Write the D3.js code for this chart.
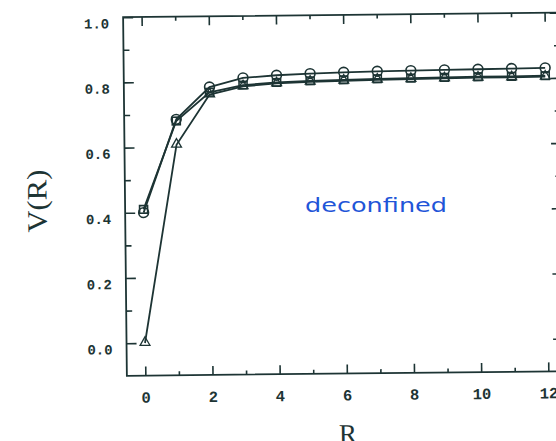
<!DOCTYPE html>
<html>
<head>
<meta charset="utf-8">
<script src="https://cdn.jsdelivr.net/npm/d3@7/dist/d3.min.js"></script>
<style>
  html, body { margin: 0; padding: 0; background: #ffffff; }
  svg { display: block; }
</style>
</head>
<body>
<svg id="chart" width="556" height="441"></svg>
<script>
// Separation R (lattice units)
const rValues = [0, 1, 2, 3, 4, 5, 6, 7, 8, 9, 10, 11, 12];
// V(R) for the three measurements
const seriesCircles   = [0.400, 0.685, 0.783, 0.810, 0.817, 0.821, 0.824, 0.826, 0.827, 0.828, 0.829, 0.830, 0.831];
const seriesSquares   = [0.410, 0.680, 0.767, 0.788, 0.795, 0.799, 0.801, 0.803, 0.804, 0.805, 0.806, 0.806, 0.807];
const seriesTriangles = [0.000, 0.607, 0.760, 0.784, 0.792, 0.796, 0.798, 0.800, 0.801, 0.802, 0.803, 0.803, 0.804];

// Axis ticks
const xMajorTicks = [0, 2, 4, 6, 8, 10, 12];
const xMinorTicks = [1, 3, 5, 7, 9, 11];
const xTickLabels = ["0", "2", "4", "6", "8", "10", "12"];
const yMajorTicks = [0, 0.2, 0.4, 0.6, 0.8, 1.0];
const yMinorTicks = [0.1, 0.3, 0.5, 0.7, 0.9];
const yTickLabels = ["0.0", "0.2", "0.4", "0.6", "0.8", "1.0"];

const ink = "#1d3434";

const svg = d3.select("#chart");
// whole sheet sits very slightly tilted
const g = svg.append("g").attr("transform", "rotate(-0.6,145,343)");

const x = d3.scaleLinear().domain([0, 12]).range([145, 548]);
const y = d3.scaleLinear().domain([0, 1]).range([343, 17]);
const xMin = -0.55, xMax = 12.45, yMin = -0.1, yMax = 1.0;

const frameL = x(xMin), frameR = x(xMax), frameT = y(yMax), frameB = y(yMin);

// frame
g.append("rect")
  .attr("x", frameL).attr("y", frameT)
  .attr("width", frameR - frameL).attr("height", frameB - frameT)
  .attr("fill", "none").attr("stroke", ink).attr("stroke-width", 1.8);

function styleAxis(sel) {
  sel.select(".domain").remove();
  sel.selectAll(".tick line").attr("stroke", ink).attr("stroke-width", 1.6);
  sel.selectAll(".tick text")
    .attr("fill", ink)
    .attr("font-family", "'Liberation Mono', 'Courier New', monospace")
    .attr("font-weight", "bold");
}

// bottom axis
g.append("g").attr("transform", `translate(0,${frameB})`)
  .call(d3.axisBottom(x).tickValues(xMajorTicks).tickSize(-9).tickSizeOuter(0)
    .tickPadding(16).tickFormat((d, i) => xTickLabels[i]))
  .call(styleAxis)
  .call(s => s.selectAll(".tick text").attr("font-size", 15.5));
g.append("g").attr("transform", `translate(0,${frameB})`)
  .call(d3.axisBottom(x).tickValues(xMinorTicks).tickSize(-4).tickSizeOuter(0).tickFormat(""))
  .call(styleAxis);

// top axis
g.append("g").attr("transform", `translate(0,${frameT})`)
  .call(d3.axisTop(x).tickValues(xMajorTicks).tickSize(-9).tickSizeOuter(0).tickFormat(""))
  .call(styleAxis);
g.append("g").attr("transform", `translate(0,${frameT})`)
  .call(d3.axisTop(x).tickValues(xMinorTicks).tickSize(-4).tickSizeOuter(0).tickFormat(""))
  .call(styleAxis);

// left axis
g.append("g").attr("transform", `translate(${frameL},0)`)
  .call(d3.axisLeft(y).tickValues(yMajorTicks).tickSize(-10).tickSizeOuter(0)
    .tickPadding(14).tickFormat((d, i) => yTickLabels[i]))
  .call(styleAxis)
  .call(s => s.selectAll(".tick text").attr("font-size", 14).attr("dy", "0.75em"));
g.append("g").attr("transform", `translate(${frameL},0)`)
  .call(d3.axisLeft(y).tickValues(yMinorTicks).tickSize(-6).tickSizeOuter(0).tickFormat(""))
  .call(styleAxis);

// right axis
g.append("g").attr("transform", `translate(${frameR},0)`)
  .call(d3.axisRight(y).tickValues(yMajorTicks).tickSize(-10).tickSizeOuter(0).tickFormat(""))
  .call(styleAxis);
g.append("g").attr("transform", `translate(${frameR},0)`)
  .call(d3.axisRight(y).tickValues(yMinorTicks).tickSize(-6).tickSizeOuter(0).tickFormat(""))
  .call(styleAxis);

// curves
const line = d3.line().x((d, i) => x(rValues[i])).y(d => y(d));
[seriesCircles, seriesSquares, seriesTriangles].forEach(s => {
  g.append("path").datum(s)
    .attr("d", line)
    .attr("fill", "none").attr("stroke", ink).attr("stroke-width", 1.8);
});

// markers
g.append("g").selectAll("circle").data(seriesCircles).join("circle")
  .attr("cx", (d, i) => x(rValues[i])).attr("cy", d => y(d)).attr("r", 4.9)
  .attr("fill", "none").attr("stroke", ink).attr("stroke-width", 1.6);

g.append("g").selectAll("rect").data(seriesSquares).join("rect")
  .attr("x", (d, i) => x(rValues[i]) - 4).attr("y", d => y(d) - 3.8)
  .attr("width", 8).attr("height", 7.6)
  .attr("fill", "none").attr("stroke", ink).attr("stroke-width", 1.6);

const tri = d3.symbol().type(d3.symbolTriangle).size(42);
g.append("g").selectAll("path").data(seriesTriangles).join("path")
  .attr("d", tri)
  .attr("transform", (d, i) => `translate(${x(rValues[i])},${y(d) - 0.5})`)
  .attr("fill", "none").attr("stroke", ink).attr("stroke-width", 1.3);

// axis titles
g.append("text")
  .attr("transform", "translate(48,200) rotate(-90)")
  .attr("text-anchor", "middle")
  .attr("font-family", "'Liberation Serif', 'Times New Roman', serif")
  .attr("font-size", 28)
  .attr("textLength", 63).attr("lengthAdjust", "spacingAndGlyphs")
  .attr("fill", ink)
  .text("V(R)");

g.append("text")
  .attr("x", 347).attr("y", 445)
  .attr("text-anchor", "middle")
  .attr("font-family", "'Liberation Serif', 'Times New Roman', serif")
  .attr("font-size", 27)
  .attr("fill", ink)
  .text("R");

// handwritten annotation
svg.append("text")
  .attr("x", 305).attr("y", 212)
  .attr("font-family", "'DejaVu Sans', sans-serif")
  .attr("font-size", 19)
  .attr("textLength", 142).attr("lengthAdjust", "spacingAndGlyphs")
  .attr("fill", "#1f55d8")
  .text("deconfined");
</script>
</body>
</html>
